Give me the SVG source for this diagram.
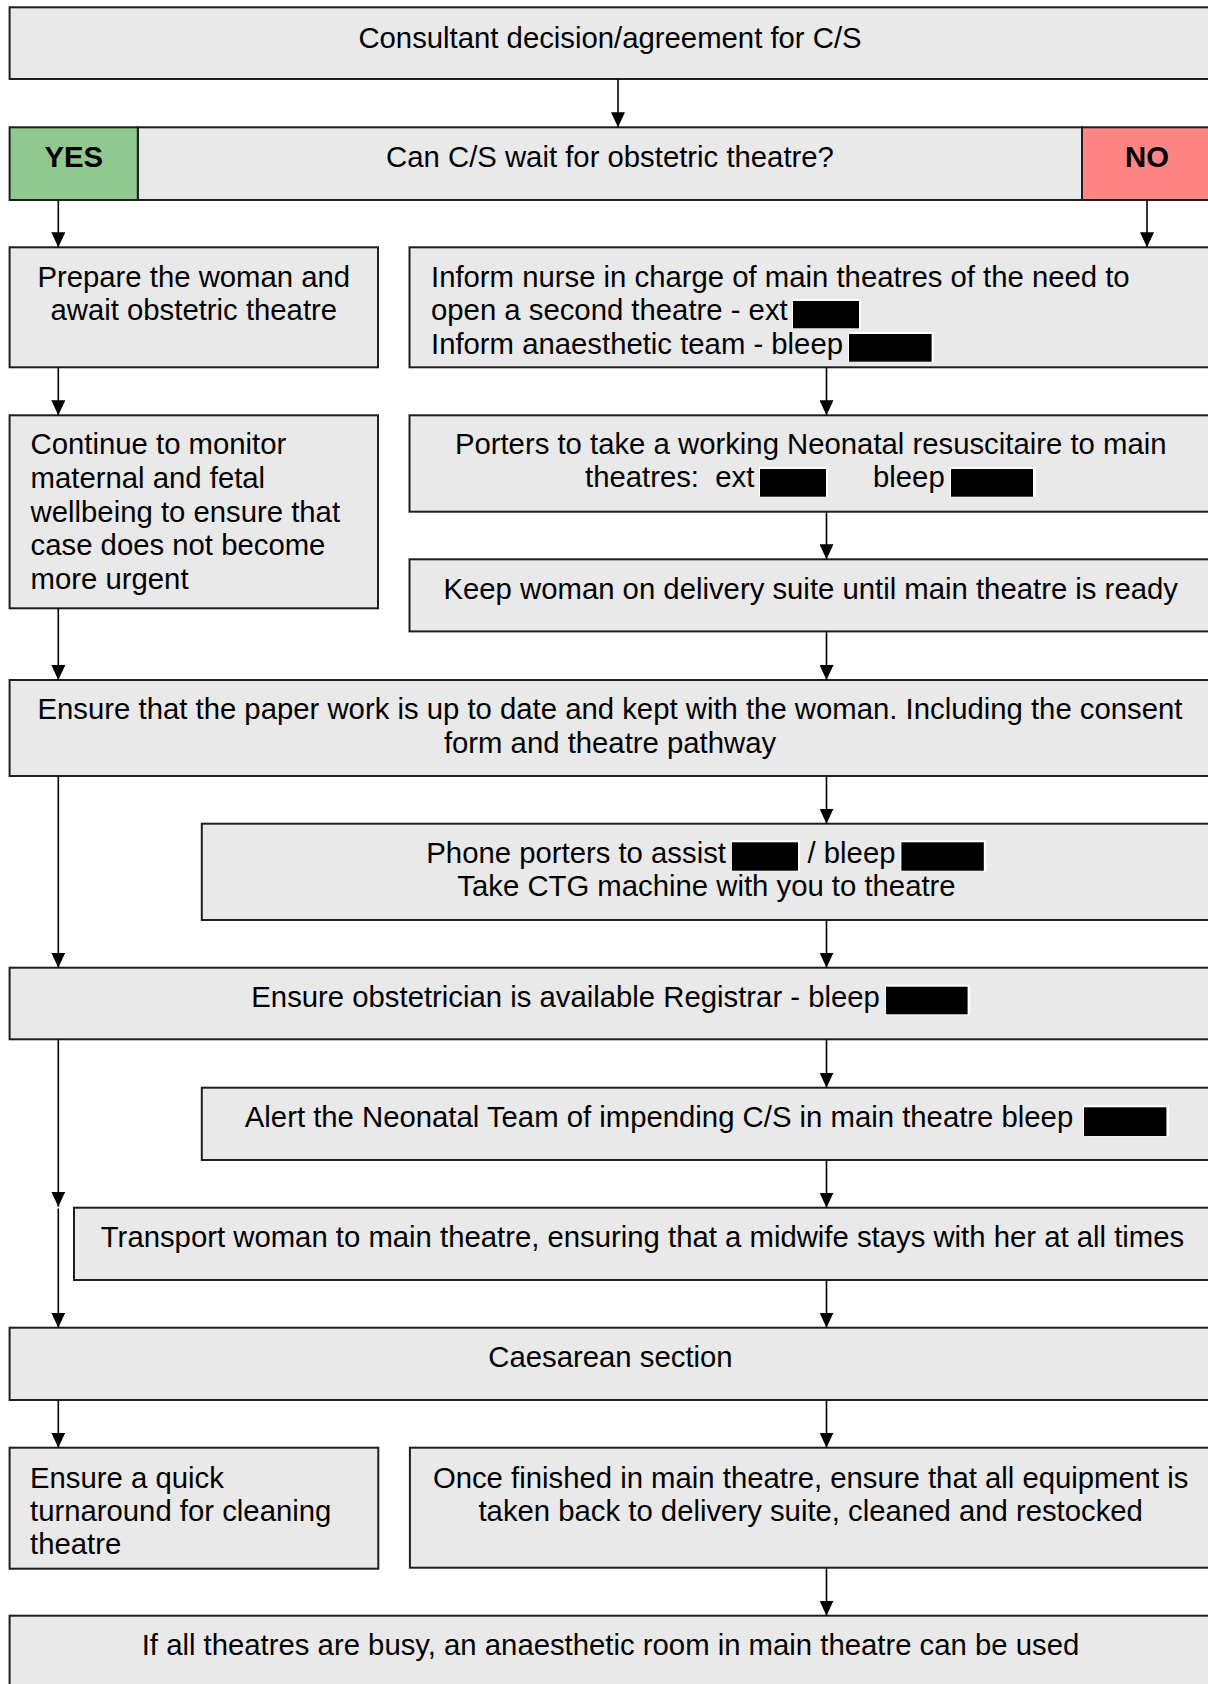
<svg xmlns="http://www.w3.org/2000/svg" width="1208" height="1684" viewBox="0 0 1208 1684">
<style>
.box{fill:#e9e9e9;stroke:#1e1e1e;stroke-width:2}
.yes{fill:#8fc98f;stroke:#1e1e1e;stroke-width:2}
.no{fill:#ff8585;stroke:#1e1e1e;stroke-width:2}
text{font-family:"Liberation Sans",Arial,sans-serif;font-size:29.3px;fill:#000}
.c{text-anchor:middle}
.b{font-weight:bold}
.red{fill:#000}
.halo{fill:#fff}
.conn line{stroke:#000;stroke-width:1.6;fill:none}
</style>
<defs>
<marker id="ah" markerUnits="userSpaceOnUse" markerWidth="15" markerHeight="14" viewBox="0 0 15 14" refX="15" refY="7" orient="auto">
<path d="M0,0 L15,7 L0,14 z" fill="#000"/>
</marker>
</defs>
<rect width="1208" height="1684" fill="#fff"/>

<g id="n1">
<rect class="box" x="9.6" y="7.3" width="1202.4" height="71.7"/>
<text class="c" x="610" y="47.5">Consultant decision/agreement for C/S</text>
</g>

<g id="n2">
<rect class="box" x="137.8" y="127.3" width="944.2" height="72.7"/>
<text class="c" x="610" y="167">Can C/S wait for obstetric theatre?</text>
</g>
<g id="yes">
<rect class="yes" x="9.6" y="127.3" width="128.2" height="72.7"/>
<text class="c b" x="73.7" y="167">YES</text>
</g>
<g id="no">
<rect class="no" x="1082" y="127.3" width="130" height="72.7"/>
<text class="c b" x="1147" y="167">NO</text>
</g>

<g id="n3l">
<rect class="box" x="9.6" y="247.3" width="368.4" height="120"/>
<text class="c" x="193.8" y="286.5">Prepare the woman and</text>
<text class="c" x="193.8" y="320.2">await obstetric theatre</text>
</g>

<g id="n3r">
<rect class="box" x="409.5" y="247.3" width="802.5" height="120"/>
<text x="431" y="286.5">Inform nurse in charge of main theatres of the need to</text>
<text x="431" y="320.2">open a second theatre - ext</text>
<text x="431" y="353.7">Inform anaesthetic team - bleep</text>
<rect class="halo" x="792" y="299" width="69" height="30"/>
<rect class="red" x="793" y="301" width="66" height="27.3"/>
<rect class="halo" x="848" y="332" width="86" height="30"/>
<rect class="red" x="849" y="334" width="82.6" height="27.7"/>
</g>

<g id="n4l">
<rect class="box" x="9.6" y="415.3" width="368.4" height="193"/>
<text x="30.6" y="454">Continue to monitor</text>
<text x="30.6" y="487.8">maternal and fetal</text>
<text x="30.6" y="521.6">wellbeing to ensure that</text>
<text x="30.6" y="555.4">case does not become</text>
<text x="30.6" y="589.2">more urgent</text>
</g>

<g id="n4r">
<rect class="box" x="409.5" y="415.3" width="802.5" height="96.4"/>
<text class="c" x="810.7" y="453.5">Porters to take a working Neonatal resuscitaire to main</text>
<text x="585" y="487.2" xml:space="preserve">theatres:  ext</text>
<text x="873" y="487.2">bleep</text>
<rect class="halo" x="759" y="467" width="69" height="30"/>
<rect class="red" x="760" y="469" width="66" height="27.7"/>
<rect class="halo" x="950" y="467" width="86" height="30"/>
<rect class="red" x="951" y="469" width="82" height="27.7"/>
</g>

<g id="n5r">
<rect class="box" x="409.5" y="559.3" width="802.5" height="72.1"/>
<text class="c" x="810.7" y="598.5">Keep woman on delivery suite until main theatre is ready</text>
</g>

<g id="n6">
<rect class="box" x="9.6" y="680" width="1202.4" height="96"/>
<text class="c" x="610" y="718.8">Ensure that the paper work is up to date and kept with the woman. Including the consent</text>
<text class="c" x="610" y="752.5">form and theatre pathway</text>
</g>

<g id="n7">
<rect class="box" x="201.8" y="823.7" width="1010.2" height="96.3"/>
<text x="426.3" y="862.7">Phone porters to assist</text>
<text x="807.5" y="862.7">/ bleep</text>
<text class="c" x="706.5" y="896.3">Take CTG machine with you to theatre</text>
<rect class="halo" x="731" y="840.3" width="69" height="31"/>
<rect class="red" x="731.9" y="842.3" width="66.1" height="28.4"/>
<rect class="halo" x="900.4" y="840.3" width="86" height="31"/>
<rect class="red" x="901.4" y="842.3" width="82.4" height="28.4"/>
</g>

<g id="n8">
<rect class="box" x="9.6" y="967.7" width="1202.4" height="71.6"/>
<text x="251.3" y="1006.8">Ensure obstetrician is available Registrar - bleep</text>
<rect class="halo" x="885" y="984.7" width="85" height="30.6"/>
<rect class="red" x="886" y="986.7" width="81.6" height="27.6"/>
</g>

<g id="n9">
<rect class="box" x="201.8" y="1087.7" width="1010.2" height="72.3"/>
<text x="244.8" y="1126.8">Alert the Neonatal Team of impending C/S in main theatre bleep</text>
<rect class="halo" x="1083" y="1105.3" width="86" height="31"/>
<rect class="red" x="1084" y="1107.3" width="82.4" height="28.7"/>
</g>

<g id="n10">
<rect class="box" x="74" y="1207.7" width="1138" height="72.3"/>
<text class="c" x="642.5" y="1247">Transport woman to main theatre, ensuring that a midwife stays with her at all times</text>
</g>

<g id="n11">
<rect class="box" x="9.6" y="1327.7" width="1202.4" height="72.3"/>
<text class="c" x="610.5" y="1367.3">Caesarean section</text>
</g>

<g id="n12l">
<rect class="box" x="9.6" y="1447.7" width="368.7" height="121"/>
<text x="30" y="1487.5">Ensure a quick</text>
<text x="30" y="1520.8">turnaround for cleaning</text>
<text x="30" y="1554.1">theatre</text>
</g>

<g id="n12r">
<rect class="box" x="409.9" y="1447.7" width="802.1" height="120"/>
<text class="c" x="810.7" y="1487.5">Once finished in main theatre, ensure that all equipment is</text>
<text class="c" x="810.7" y="1520.8">taken back to delivery suite, cleaned and restocked</text>
</g>

<g id="n13">
<rect class="box" x="9.6" y="1615.7" width="1202.4" height="80"/>
<text class="c" x="610.5" y="1655">If all theatres are busy, an anaesthetic room in main theatre can be used</text>
</g>

<g class="conn" id="connectors">
<line x1="618" y1="79" x2="618" y2="127.3" marker-end="url(#ah)"/>
<line x1="58.3" y1="200" x2="58.3" y2="247.3" marker-end="url(#ah)"/>
<line x1="1147" y1="200" x2="1147" y2="247.3" marker-end="url(#ah)"/>
<line x1="58.3" y1="367.3" x2="58.3" y2="415.3" marker-end="url(#ah)"/>
<line x1="826.5" y1="367.3" x2="826.5" y2="415.3" marker-end="url(#ah)"/>
<line x1="826.5" y1="511.7" x2="826.5" y2="559.3" marker-end="url(#ah)"/>
<line x1="58.3" y1="608.3" x2="58.3" y2="680" marker-end="url(#ah)"/>
<line x1="826.5" y1="631.4" x2="826.5" y2="680" marker-end="url(#ah)"/>
<line x1="826.5" y1="776" x2="826.5" y2="823.7" marker-end="url(#ah)"/>
<line x1="58.3" y1="776" x2="58.3" y2="967.7" marker-end="url(#ah)"/>
<line x1="826.5" y1="920" x2="826.5" y2="967.7" marker-end="url(#ah)"/>
<line x1="826.5" y1="1039.3" x2="826.5" y2="1087.7" marker-end="url(#ah)"/>
<line x1="58.3" y1="1039.3" x2="58.3" y2="1206.7" marker-end="url(#ah)"/>
<line x1="58.3" y1="1208.5" x2="58.3" y2="1327.7" marker-end="url(#ah)"/>
<line x1="826.5" y1="1160" x2="826.5" y2="1207.7" marker-end="url(#ah)"/>
<line x1="826.5" y1="1280" x2="826.5" y2="1327.7" marker-end="url(#ah)"/>
<line x1="58.3" y1="1400" x2="58.3" y2="1447.7" marker-end="url(#ah)"/>
<line x1="826.5" y1="1400" x2="826.5" y2="1447.7" marker-end="url(#ah)"/>
<line x1="826.5" y1="1567.7" x2="826.5" y2="1615.7" marker-end="url(#ah)"/>
</g>
</svg>
